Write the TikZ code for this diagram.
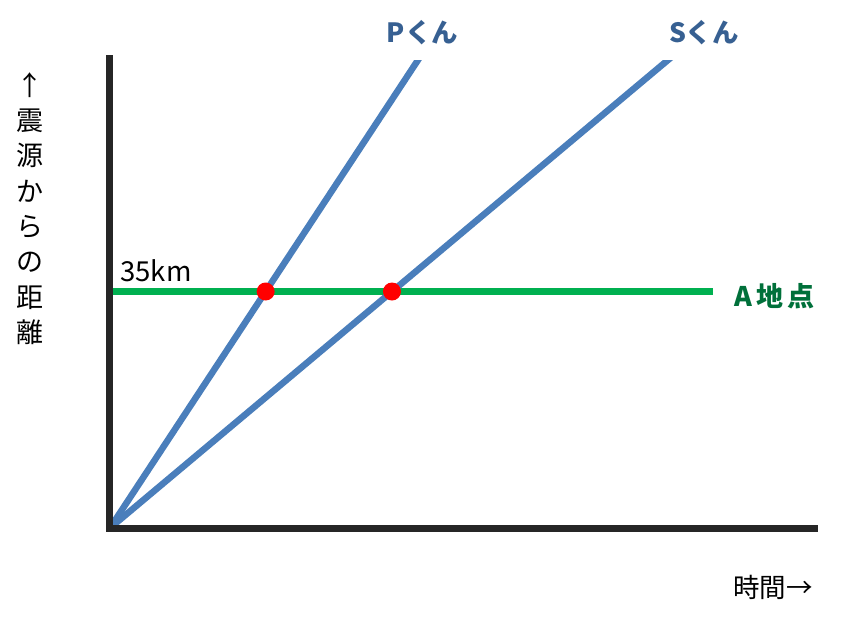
\documentclass[tikz,border=0pt]{standalone}
\usepackage{fontspec}
\setmainfont{Noto Sans CJK JP}
\usetikzlibrary{intersections,calc}
\definecolor{axisgray}{HTML}{262626}
\definecolor{wave}{HTML}{4A7EBB}
\definecolor{wavetext}{HTML}{376092}
\definecolor{lineg}{HTML}{00B050}
\definecolor{textg}{HTML}{00703A}
\definecolor{dotred}{HTML}{FF0000}
\tikzset{
  axisline/.style={draw=axisgray, line width=6.8pt},
  waveline/.style={draw=wave, line width=6.5pt},
  placeline/.style={draw=lineg, line width=6.5pt},
  hitdot/.style={circle, fill=dotred, inner sep=0pt, minimum size=18pt},
  wavelabel/.style={text=wavetext, font=\fontsize{26.5}{30}\selectfont\bfseries, inner sep=0pt},
  plainlabel/.style={text=black, font=\fontsize{26.5}{30}\selectfont, inner sep=0pt},
}
\begin{document}
\begin{tikzpicture}[x=1pt, y=-1pt]
\useasboundingbox (0,0) rectangle (864,622);
% key points
\coordinate (O) at (110,528);
\coordinate (Ytop) at (109.5,55);
\coordinate (Xend) at (818,528.5);
\coordinate (Ptop) at (418,60);
\coordinate (Stop) at (668,60);
\coordinate (Astart) at (110,291.5);
\coordinate (Aend) at (713,291.5);
% place line
\path[placeline, name path=aline] (Astart) -- (Aend);
% waves
\begin{scope}
  \clip (0,60) rectangle (864,622);
  \path[waveline, name path global=pline] (O) -- ($(O)!1.05!(Ptop)$);
  \path[waveline, name path global=sline] (O) -- ($(O)!1.05!(Stop)$);
\end{scope}
% axes
\draw[axisline] (Ytop) -- (109.5,531.9);
\draw[axisline] (106.1,528.5) -- (Xend);
% intersections
\path[name intersections={of=pline and aline, by=XP}];
\path[name intersections={of=sline and aline, by=XS}];
\node[hitdot] (dp) at (XP) {};
\node[hitdot] (ds) at (XS) {};
% labels
\node[wavelabel] (pl) at (422.5,33) {Pくん};
\node[wavelabel] (sl) at (704,33) {Sくん};
\node[plainlabel, font=\fontsize{27.5}{30}\selectfont] (km) at (156,270.5) {35km};
\node[text=textg, font=\fontsize{27}{30}\selectfont\bfseries, inner sep=0pt] (al) at (774.5,296.5) {A\hspace{5pt}地\hspace{4pt}点};
\node[plainlabel] (tl) at (773,587) {時間→};
\node[plainlabel, align=center, font=\fontsize{27}{35.3}\selectfont] (yl) at (30,208.5) {↑\\震\\源\\か\\ら\\の\\距\\離};
\end{tikzpicture}
\end{document}
